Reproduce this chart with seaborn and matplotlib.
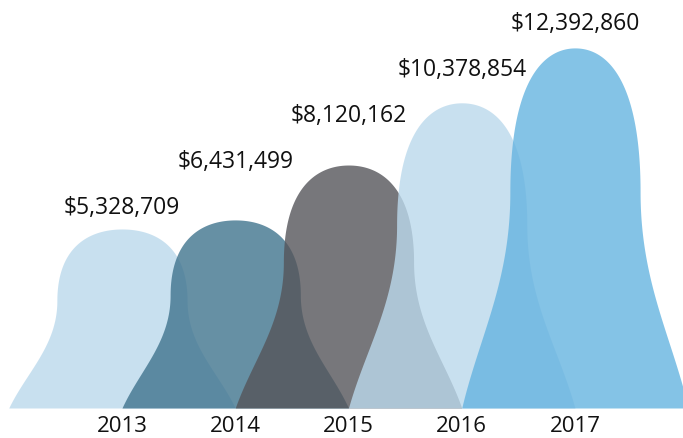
import numpy as np
import pandas as pd
import seaborn as sns
import matplotlib.pyplot as plt

# revenue per year, and peak heights of each mountain (millions)
years = [2013, 2014, 2015, 2016, 2017]
revenue = [5328709, 6431499, 8120162, 10378854, 12392860]
peaks = [6.13, 6.44, 8.32, 10.45, 12.33]
colors = ["#bbd9ec", "#40748e", "#55555a", "#bbd9ec", "#66b4e0"]

sns.set_theme(style="white")
plt.rcParams["font.family"] = ["Open Sans", "DejaVu Sans"]


def bezier(p0, p1, p2, p3, n=80):
    t = np.linspace(0, 1, n)[:, None]
    pts = ((1 - t) ** 3 * np.array(p0) + 3 * (1 - t) ** 2 * t * np.array(p1)
           + 3 * (1 - t) * t ** 2 * np.array(p2) + t ** 3 * np.array(p3))
    return pts[:, 0], pts[:, 1]


# unit mountain: right half built from a rounded cap and a flared foot
cx, cy = bezier((0, 1), (0.30, 1), (0.575, 0.90), (0.575, 0.60))
fx, fy = bezier((0.575, 0.60), (0.575, 0.35), (0.85, 0.20), (1, 0))
half_x = np.concatenate([cx, fx[1:]])
half_y = np.concatenate([cy, fy[1:]])
unit_x = np.concatenate([-half_x[::-1], half_x[1:]])
unit_y = np.concatenate([half_y[::-1], half_y[1:]])

rows = []
for yr, pk in zip(years, peaks):
    rows.append(pd.DataFrame({"year": yr, "x": yr + unit_x, "y": pk * unit_y}))
shapes = pd.concat(rows, ignore_index=True)

fig = plt.figure(figsize=(6.83, 4.38), dpi=100)
ax = fig.add_axes([0, 30 / 438, 1, 408 / 438])

for yr, col in zip(years, colors):
    d = shapes[shapes["year"] == yr]
    ax.fill_between(d["x"], 0, d["y"], color=col, alpha=0.8, linewidth=0)

# value labels stacked in even steps above the mountains
for i, (yr, val) in enumerate(zip(years, revenue)):
    ax.text(yr, 6.63 + 1.58 * i, f"${val:,}", ha="center", va="baseline",
            fontsize=16.5, color="#111111")

ax.set_xlim(2011.923, 2017.954)
ax.set_ylim(0, 13.97)
ax.set_xticks(years)
ax.set_xticklabels([str(y) for y in years], fontsize=16, color="#111111")
ax.set_yticks([])
ax.tick_params(axis="x", length=0, pad=6)
sns.despine(ax=ax, left=True, bottom=True)

fig.savefig("out.png", dpi=100)
